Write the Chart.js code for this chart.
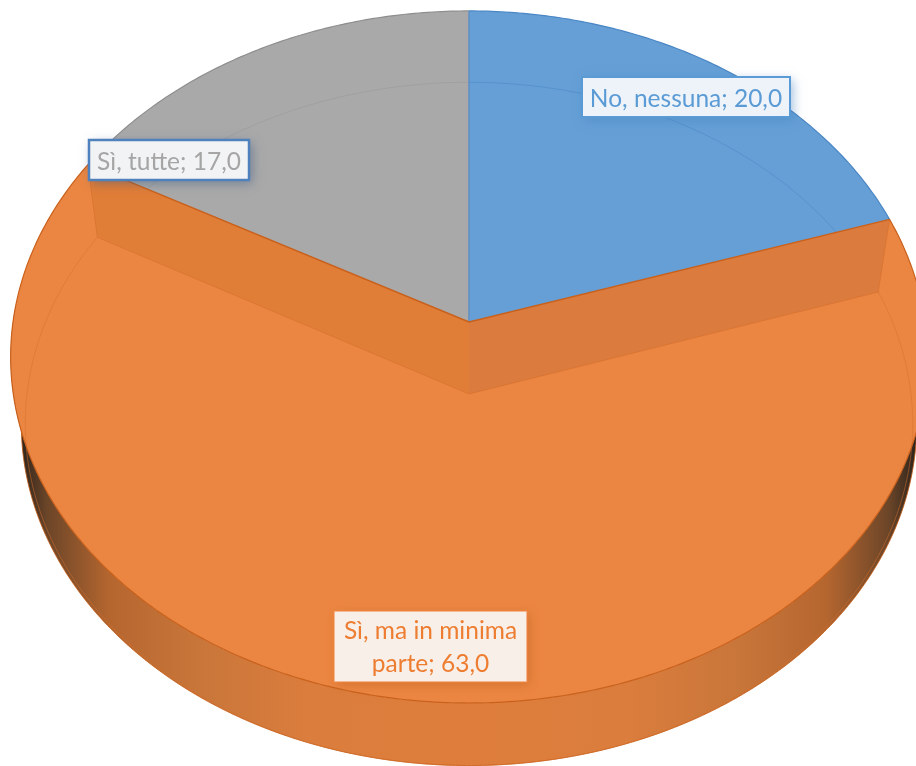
<!DOCTYPE html>
<html>
<head>
<meta charset="utf-8">
<style>
  html, body { margin: 0; padding: 0; background: #fff; overflow: hidden; }
  canvas { display: block; }
</style>
<script src="https://cdn.jsdelivr.net/npm/chart.js@4/dist/chart.umd.min.js"></script>
</head>
<body>
<canvas id="pie3d" width="916" height="766"></canvas>
<script>
const categories = ["No, nessuna", "Sì, ma in minima parte", "Sì, tutte"];
const values = [20, 63, 17];
const sliceColors = ["#659fd6", "#eb8642", "#a9a9a9"];
const edgeColors = ["#4a86c4", "#c9611c", "#8e8e8e"];

// perspective of the tilted disc: top face, bottom face, outer edge of the wall
const topFace = { cx: 469, cy: 322, a: 456, b: 342.5, k: 0.101 };
const baseFace = { cx: 469, cy: 394, a: 442, b: 339, k: 0.0876 };
const wallFace = { cx: 469, cy: 394, a: 446, b: 339, k: 0.0876 };

function project(face, angle) {
  const u = Math.cos(angle), v = Math.sin(angle);
  const w = 1 - face.k * v;
  return [face.cx + (face.a * u) / w, face.cy + (face.b * v) / w];
}

function arcPoints(face, start, end) {
  const steps = Math.max(2, Math.ceil(Math.abs(end - start) * 90));
  const pts = [];
  for (let i = 0; i <= steps; i++) {
    pts.push(project(face, start + ((end - start) * i) / steps));
  }
  return pts;
}

function trace(ctx, pts, close) {
  ctx.beginPath();
  pts.forEach((p, i) => (i ? ctx.lineTo(p[0], p[1]) : ctx.moveTo(p[0], p[1])));
  if (close) ctx.closePath();
}

// Label boxes
const labelBoxes = [
  { x: 582, y: 77, w: 208, h: 40, base: 30, fill: "#edf3f9", border: "#5b9bd5", lw: 2, shadow: "rgba(70,130,190,0.5)", text: "#5b9bd5", lines: (c, v) => [c + "; " + v] },
  { x: 334, y: 611, w: 193, h: 71, base: 28, fill: "#f9efe9", border: "rgba(240,133,63,0.7)", lw: 1.5, shadow: "rgba(190,95,30,0.45)", text: "#ed7d31", lines: (c, v) => ["Sì, ma in minima", "parte; " + v] },
  { x: 89, y: 140, w: 160, h: 40, base: 30, fill: "#f2f3f5", border: "#4f81bd", lw: 2.5, shadow: "rgba(60,90,130,0.5)", text: "#a5a5a5", lines: (c, v) => [c + "; " + v] },
];

const pie3d = {
  id: "pie3d",
  beforeDatasetsDraw(chart) {
    const ctx = chart.ctx;
    const arcs = chart.getDatasetMeta(0).data;
    const big = arcs[1];

    ctx.save();
    ctx.lineJoin = "round";

    // front wall of the big slice
    const wall = ctx.createLinearGradient(20, 0, 916, 0);
    wall.addColorStop(0, "#2e241c");
    wall.addColorStop(0.03, "#6b4528");
    wall.addColorStop(0.1, "#b5662f");
    wall.addColorStop(0.2, "#c9763a");
    wall.addColorStop(0.32, "#da7d3d");
    wall.addColorStop(0.5, "#df7e3c");
    wall.addColorStop(0.68, "#da7d3d");
    wall.addColorStop(0.8, "#c9763a");
    wall.addColorStop(0.9, "#b5662f");
    wall.addColorStop(0.97, "#6b4528");
    wall.addColorStop(1, "#2e241c");
    const front = arcPoints(topFace, -0.05, Math.PI + 0.05);
    const back = arcPoints(wallFace, Math.PI + 0.05, -0.05);
    trace(ctx, front.concat(back), true);
    ctx.fillStyle = wall;
    ctx.fill();
    trace(ctx, arcPoints(wallFace, 0.1, Math.PI - 0.1), false);
    ctx.strokeStyle = "rgba(197,90,17,0.8)";
    ctx.lineWidth = 1;
    ctx.stroke();

    // top faces from the library's arc angles
    arcs.forEach((el, i) => {
      const { startAngle, endAngle } = el.getProps(["startAngle", "endAngle"], true);
      const pts = arcPoints(topFace, startAngle, endAngle);
      pts.push([topFace.cx, topFace.cy]);
      trace(ctx, pts, true);
      ctx.fillStyle = sliceColors[i];
      ctx.fill();
    });

    // faint outline of the bottom face, behind the inner walls
    ctx.lineWidth = 1;
    arcs.forEach((el, i) => {
      trace(ctx, arcPoints(baseFace, el.startAngle, el.endAngle), false);
      ctx.strokeStyle = i === 1 ? "rgba(214,112,45,0.5)" : i === 0 ? "rgba(74,134,196,0.55)" : "rgba(142,142,142,0.35)";
      ctx.stroke();
    });

    // inner walls seen through the big slice
    const a0 = big.startAngle, a1 = big.endAngle;
    const t0 = project(topFace, a0), t1 = project(topFace, a1);
    const b0 = project(baseFace, a0), b1 = project(baseFace, a1);
    const tc = [topFace.cx, topFace.cy], bc = [baseFace.cx, baseFace.cy];
    trace(ctx, [tc, t0, b0, bc], true);
    ctx.fillStyle = "#db7b3d";
    ctx.fill();
    trace(ctx, [tc, t1, b1, bc], true);
    ctx.fillStyle = "#e07d37";
    ctx.fill();
    trace(ctx, [t0, b0, bc, b1, t1], false);
    ctx.strokeStyle = "rgba(214,112,45,0.6)";
    ctx.lineWidth = 1;
    ctx.stroke();

    // slice edges
    arcs.forEach((el, i) => {
      const pts = arcPoints(topFace, el.startAngle, el.endAngle);
      trace(ctx, pts, false);
      ctx.strokeStyle = edgeColors[i];
      ctx.lineWidth = 1.2;
      ctx.stroke();
    });
    const up = project(topFace, -Math.PI / 2);
    trace(ctx, [up, tc], false);
    ctx.strokeStyle = "#5f8fc2";
    ctx.lineWidth = 1.5;
    ctx.stroke();
    trace(ctx, [t0, tc, t1], false);
    ctx.strokeStyle = "#c9611c";
    ctx.lineWidth = 1.5;
    ctx.stroke();

    ctx.restore();
    return false;
  },
  afterDraw(chart) {
    const ctx = chart.ctx;
    ctx.save();
    labelBoxes.forEach((box, i) => {
      const value = values[i].toFixed(1).replace(".", ",");
      ctx.save();
      ctx.shadowColor = box.shadow;
      ctx.shadowBlur = 10;
      ctx.shadowOffsetX = 3;
      ctx.shadowOffsetY = 3;
      ctx.fillStyle = box.fill;
      ctx.fillRect(box.x, box.y, box.w, box.h);
      ctx.restore();
      ctx.strokeStyle = box.border;
      ctx.lineWidth = box.lw;
      ctx.strokeRect(box.x, box.y, box.w, box.h);

      const lines = box.lines(categories[i], value);
      ctx.font = '24.5px Lato, "Open Sans", sans-serif';
      ctx.fillStyle = box.text;
      ctx.textAlign = "center";
      ctx.textBaseline = "alphabetic";
      lines.forEach((line, n) => {
        ctx.fillText(line, box.x + box.w / 2, box.y + box.base + n * 33);
      });
    });
    ctx.restore();
  },
};

new Chart(document.getElementById("pie3d").getContext("2d"), {
  type: "pie",
  data: {
    labels: categories,
    datasets: [
      {
        data: values,
        backgroundColor: sliceColors,
        borderColor: edgeColors,
      },
    ],
  },
  options: {
    responsive: false,
    animation: false,
    plugins: {
      legend: { display: false },
      tooltip: { enabled: false },
    },
  },
  plugins: [pie3d],
});
</script>
</body>
</html>
